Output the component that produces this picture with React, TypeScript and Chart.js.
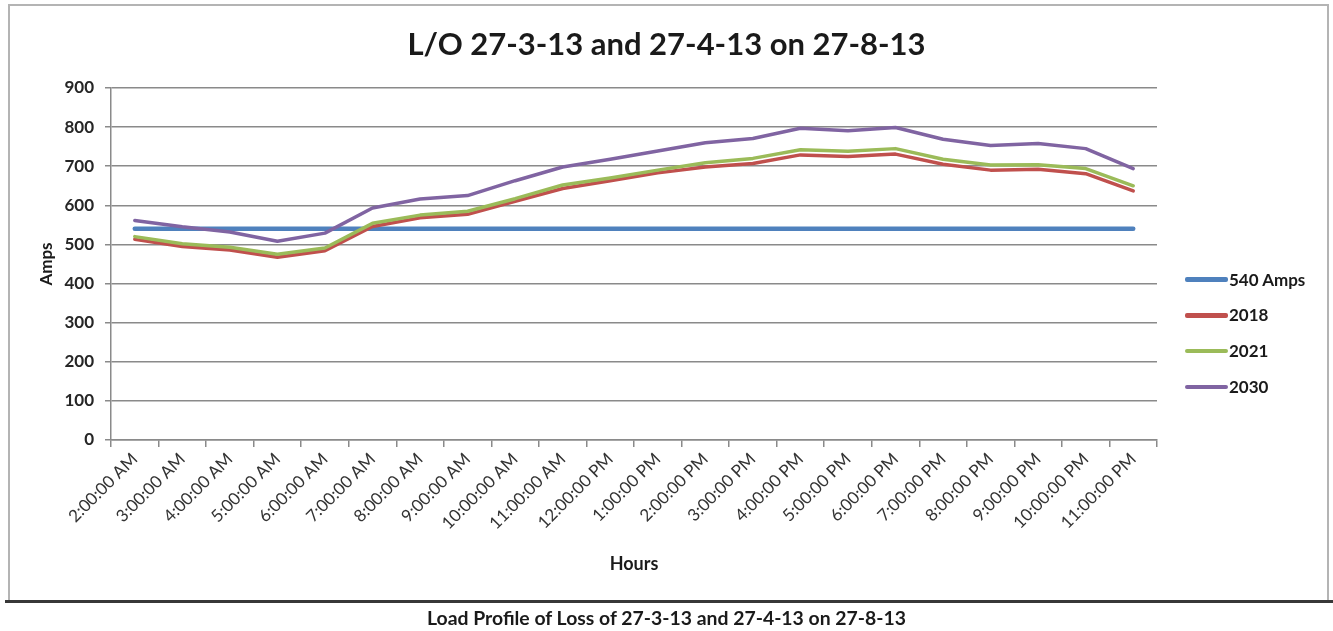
import React, { useEffect, useRef } from "react";
import { Chart, registerables } from "chart.js";

Chart.register(...registerables);

const titleText = "L/O 27-3-13 and 27-4-13 on 27-8-13";
const captionText = "Load Profile of Loss of 27-3-13 and 27-4-13 on 27-8-13";
const xAxisTitle = "Hours";
const yAxisTitle = "Amps";

const hours = [
  "2:00:00 AM", "3:00:00 AM", "4:00:00 AM", "5:00:00 AM", "6:00:00 AM", "7:00:00 AM",
  "8:00:00 AM", "9:00:00 AM", "10:00:00 AM", "11:00:00 AM", "12:00:00 PM", "1:00:00 PM",
  "2:00:00 PM", "3:00:00 PM", "4:00:00 PM", "5:00:00 PM", "6:00:00 PM", "7:00:00 PM",
  "8:00:00 PM", "9:00:00 PM", "10:00:00 PM", "11:00:00 PM",
];

const seriesNames = ["540 Amps", "2018", "2021", "2030"];

const amps540 = [540, 540, 540, 540, 540, 540, 540, 540, 540, 540, 540, 540, 540, 540, 540, 540, 540, 540, 540, 540, 540, 540];
const y2018 = [513, 495, 486, 467, 484, 546, 568, 577, 610, 643, 663, 683, 698, 707, 729, 725, 731, 705, 690, 692, 681, 637];
const y2021 = [520, 502, 493, 475, 491, 554, 575, 585, 617, 652, 670, 690, 709, 720, 742, 738, 745, 718, 703, 704, 694, 650];
const y2030 = [561, 545, 532, 508, 529, 593, 616, 625, 663, 698, 718, 739, 760, 771, 797, 791, 799, 769, 753, 758, 745, 694];

const yTicksMin = 0;
const yTicksMax = 900;
const yTickStep = 100;

const colors = ["#4F81BD", "#C0504D", "#9BBB59", "#8064A2"];
const widths = [4.5, 3.5, 3.5, 3.5];
const drawOrder = [4, 3, 2, 1];
const seriesData = [amps540, y2018, y2021, y2030];

const FONT = "Lato, 'DejaVu Sans', sans-serif";

// Centre the chart title over the whole canvas (as in the reference), not only the padded box.
const fullWidthTitle = {
  id: "fullWidthTitle",
  afterLayout(chart: any) {
    const tb = chart.titleBlock;
    if (tb) {
      tb.left = 0;
      tb.right = chart.width;
      tb.width = chart.width;
    }
  },
};

export default function App() {
  const ref = useRef<HTMLCanvasElement>(null);

  useEffect(() => {
    if (!ref.current) return;
    const chart = new Chart(ref.current, {
      type: "line",
      data: {
        labels: hours,
        datasets: seriesNames.map((name, i) => ({
          label: name,
          data: seriesData[i],
          borderColor: colors[i],
          backgroundColor: colors[i],
          borderWidth: widths[i],
          pointRadius: 0,
          pointHoverRadius: 0,
          tension: 0,
          fill: false,
          order: drawOrder[i],
          borderJoinStyle: "round" as const,
          borderCapStyle: "round" as const,
        })),
      },
      plugins: [fullWidthTitle],
      options: {
        animation: false,
        responsive: false,
        devicePixelRatio: 1,
        layout: { padding: { left: 30, top: 10, right: 176, bottom: 31 } },
        font: { family: FONT },
        plugins: {
          legend: { display: false },
          tooltip: { enabled: false },
          title: {
            display: true,
            text: titleText,
            color: "#1a1a1a",
            font: { family: FONT, size: 31, weight: "bold" },
            padding: { top: 16.4, bottom: 24.4 },
          },
        },
        scales: {
          x: {
            type: "category",
            offset: true,
            ticks: {
              autoSkip: false,
              minRotation: 45,
              maxRotation: 45,
              color: "#333333",
              font: { family: FONT, size: 17 },
              padding: 2,
            },
            grid: {
              offset: true,
              drawOnChartArea: false,
              drawTicks: true,
              tickLength: 7,
              color: "#8a8a8a",
              lineWidth: 1.5,
            },
            border: { display: true, color: "#8a8a8a", width: 1.5 },
            title: {
              display: true,
              text: xAxisTitle,
              color: "#1a1a1a",
              font: { family: FONT, size: 18, weight: "bold" },
              padding: { top: 0, bottom: 25 },
            },
            afterFit: (s: any) => {
              s.height = 160;
            },
          },
          y: {
            min: yTicksMin,
            max: yTicksMax,
            ticks: {
              stepSize: yTickStep,
              color: "#262626",
              font: { family: FONT, size: 17, weight: "bold" },
              padding: 11,
            },
            grid: {
              color: "#8a8a8a",
              lineWidth: 1.5,
              drawTicks: true,
              tickLength: 6,
            },
            border: { display: true, color: "#8a8a8a", width: 1.5 },
            title: {
              display: true,
              text: yAxisTitle,
              color: "#1a1a1a",
              font: { family: FONT, size: 17, weight: "bold" },
              padding: { top: 6.8, bottom: 0 },
            },
            afterFit: (s: any) => {
              s.width = 81;
            },
          },
        },
      },
    });
    return () => chart.destroy();
  }, []);

  const legendTop = 279.5;
  const legendStep = 35.8;

  return (
    <div style={{ position: "fixed", left: 0, top: 0, width: 1333, height: 631, background: "#ffffff", overflow: "hidden" }}>
      <div
        style={{
          position: "absolute",
          left: 8,
          top: 4,
          width: 1321,
          height: 598,
          boxSizing: "border-box",
          borderTop: "2px solid #b4b4b4",
          borderLeft: "2.5px solid #b4b4b4",
          borderRight: "2.5px solid #b4b4b4",
        }}
      />
      <div style={{ position: "absolute", left: 5, top: 600, width: 1328, height: 3, background: "#383838" }} />
      <canvas ref={ref} width={1333} height={631} style={{ position: "absolute", left: 0, top: 0, width: 1333, height: 631 }} />
      {seriesNames.map((name, i) => (
        <div key={name} style={{ position: "absolute", left: 1185, top: legendTop + i * legendStep - 12, height: 24, display: "flex", alignItems: "center" }}>
          <div style={{ width: 43, height: i === 0 ? 5 : 4.5, background: colors[i], borderRadius: 2 }} />
          <span style={{ fontFamily: FONT, fontWeight: "bold", fontSize: 17, color: "#1a1a1a", lineHeight: "24px", marginLeft: 1 }}>{name}</span>
        </div>
      ))}
      <div
        style={{
          position: "absolute",
          left: 0,
          top: 606,
          width: 1333,
          textAlign: "center",
          fontFamily: FONT,
          fontWeight: "bold",
          fontSize: 19.4,
          lineHeight: "24px",
          color: "#1a1a1a",
        }}
      >
        {captionText}
      </div>
    </div>
  );
}
